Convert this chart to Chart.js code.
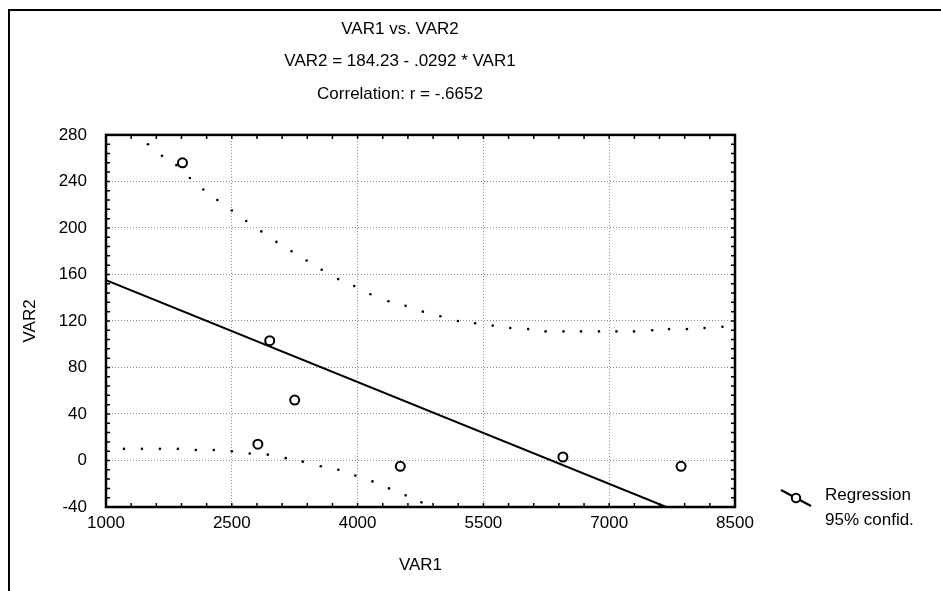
<!DOCTYPE html>
<html>
<head>
<meta charset="utf-8">
<script src="https://cdn.jsdelivr.net/npm/chart.js@4.4.0/dist/chart.umd.min.js"></script>
<style>
  body { margin: 0; background: #fff; }
  #wrap { position: relative; width: 941px; height: 591px; overflow: hidden; }
  #frame { position: absolute; left: 8px; top: 9px; width: 940px; height: 600px; border-top: 2px solid #000; border-left: 2px solid #000; }
  canvas { position: absolute; left: 0; top: 0; }
</style>
</head>
<body>
<div id="wrap">
  <div id="frame"></div>
  <canvas id="chartCanvas" width="941" height="591"></canvas>
</div>
<script>
const titleLines = ['VAR1 vs. VAR2', 'VAR2 = 184.23 - .0292 * VAR1', 'Correlation: r = -.6652'];
const xLabel = 'VAR1';
const yLabel = 'VAR2';

// observed cases
const obsX = [1912, 2952, 3250, 2811, 4509, 6448, 7857];
const obsY = [256, 103, 52, 14, -5, 3, -5];

// fitted regression line (ends where it leaves the plot)
const fitX = [1000, 7680];
const fitY = [155, -40];

// 95% confidence band, read dot by dot
const upperX = [1500, 1668, 1840, 2000, 2160, 2328, 2500, 2672, 2852, 3032, 3212, 3392, 3572, 3768, 3960, 4152,
  4367, 4572, 4778, 4987, 5196, 5401, 5611, 5820, 6033, 6242, 6455, 6664, 6878, 7087, 7296, 7513, 7714, 7927, 8137, 8350];
const upperY = [272, 262, 254, 243, 233, 224, 215, 206, 197, 188, 180, 172, 164, 156, 150, 143,
  137, 133, 128, 124, 120, 118, 116, 114, 113, 111, 111, 111, 111, 111, 111, 112, 113, 113, 114, 115];
const lowerX = [1214, 1429, 1643, 1857, 2071, 2286, 2500, 2714, 2929, 3143, 3346, 3561, 3770, 3973, 4177, 4375, 4573, 4761];
const lowerY = [10, 10, 10, 10, 9, 9, 8, 6, 5, 2, -1, -5, -8, -13, -18, -24, -30, -36];

const legendLines = ['Regression', '95% confid.'];

const FONT = "'Liberation Sans', Arial, Helvetica, sans-serif";
const FS = 17;
Chart.defaults.font.family = FONT;
Chart.defaults.font.size = FS;
Chart.defaults.color = '#000';

// plot box is 106..735; an empty right axis (65px) lets the title centre sit near x=400
const PLOT_LEFT = 106;
const SPACER = 65;
const PAD_RIGHT = 941 - 735 - SPACER;

function pairs(xs, ys) {
  return xs.map((x, i) => ({ x: x, y: ys[i] }));
}

// frame, inward minor ticks and the legend block
const decorations = {
  id: 'decorations',
  afterDraw(chart) {
    const ctx = chart.ctx;
    const a = chart.chartArea;
    const sx = chart.scales.x;
    const sy = chart.scales.y;
    ctx.save();
    ctx.strokeStyle = '#000';
    ctx.lineWidth = 1.5;
    ctx.beginPath();
    for (let v = 1000; v <= 8500; v += 300) {
      const px = sx.getPixelForValue(v);
      ctx.moveTo(px, a.bottom); ctx.lineTo(px, a.bottom - 4);
      ctx.moveTo(px, a.top); ctx.lineTo(px, a.top + 4);
    }
    for (let v = -40; v <= 280; v += 8) {
      const py = sy.getPixelForValue(v);
      ctx.moveTo(a.left, py); ctx.lineTo(a.left + 4, py);
      ctx.moveTo(a.right, py); ctx.lineTo(a.right - 4, py);
    }
    ctx.stroke();
    ctx.lineWidth = 2.5;
    ctx.strokeRect(a.left, a.top, a.right - a.left, a.bottom - a.top);

    // legend
    const lx = a.right + 46;
    const ly = a.bottom - 9;
    ctx.lineWidth = 2;
    ctx.beginPath();
    ctx.moveTo(lx, ly - 8);
    ctx.lineTo(lx + 30, ly + 8);
    ctx.stroke();
    ctx.fillStyle = '#fff';
    ctx.beginPath();
    ctx.arc(lx + 15, ly, 4.2, 0, Math.PI * 2);
    ctx.fill();
    ctx.stroke();
    ctx.fillStyle = '#000';
    ctx.font = FS + 'px ' + FONT;
    ctx.textBaseline = 'middle';
    ctx.textAlign = 'left';
    ctx.fillText(legendLines[0], lx + 44, ly - 3);
    ctx.fillText(legendLines[1], lx + 44, ly + 22);
    ctx.restore();
  }
};

const gridColor = '#8c8c8c';

const ctx = document.getElementById('chartCanvas').getContext('2d');
new Chart(ctx, {
  type: 'scatter',
  data: {
    datasets: [
      {
        label: 'Regression',
        data: pairs(fitX, fitY),
        showLine: true,
        borderColor: '#000',
        borderWidth: 2,
        pointRadius: 0,
        fill: false
      },
      {
        label: 'Upper 95%',
        data: pairs(upperX, upperY),
        pointRadius: 1.3,
        pointBackgroundColor: '#000',
        pointBorderWidth: 0
      },
      {
        label: 'Lower 95%',
        data: pairs(lowerX, lowerY),
        pointRadius: 1.3,
        pointBackgroundColor: '#000',
        pointBorderWidth: 0
      },
      {
        label: 'Cases',
        data: pairs(obsX, obsY),
        pointRadius: 4.5,
        pointBackgroundColor: 'rgba(255,255,255,0)',
        pointBorderColor: '#000',
        pointBorderWidth: 2
      }
    ]
  },
  options: {
    responsive: false,
    animation: false,
    layout: { padding: { left: 0, right: PAD_RIGHT, top: 0, bottom: 0 } },
    plugins: {
      legend: { display: false },
      tooltip: { enabled: false },
      title: {
        display: true,
        text: titleLines,
        color: '#000',
        font: { size: FS, weight: 'normal', lineHeight: 1.91 },
        padding: { top: 12.75, bottom: 24.75 }
      }
    },
    scales: {
      x: {
        type: 'linear',
        min: 1000,
        max: 8500,
        ticks: { stepSize: 1500, padding: 6, color: '#000', callback: (v) => String(v) },
        grid: { color: gridColor, lineWidth: 1, drawTicks: false },
        border: { display: false, dash: [1, 2] },
        title: { display: true, text: xLabel, color: '#000', padding: { top: 0, bottom: 15 } },
        afterFit: (s) => { s.height = 84; }
      },
      y: {
        min: -40,
        max: 280,
        ticks: { stepSize: 40, padding: 19, color: '#000' },
        grid: { color: gridColor, lineWidth: 1, drawTicks: false },
        border: { display: false, dash: [1, 2] },
        title: { display: true, text: yLabel, color: '#000', padding: { top: 20, bottom: 0 } },
        afterFit: (s) => { s.width = PLOT_LEFT; }
      },
      spacer: {
        type: 'linear',
        position: 'right',
        min: 0,
        max: 1,
        ticks: { display: false },
        grid: { display: false, drawOnChartArea: false },
        border: { display: false },
        afterFit: (s) => { s.width = SPACER; }
      }
    }
  },
  plugins: [decorations]
});
</script>
</body>
</html>
